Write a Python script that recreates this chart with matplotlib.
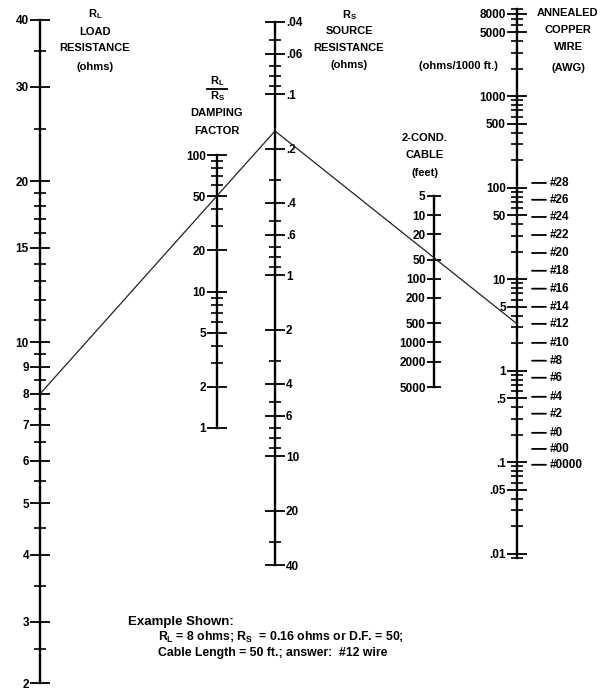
import matplotlib
matplotlib.use("Agg")
import matplotlib.pyplot as plt
import numpy as np
from matplotlib import ticker
from matplotlib.lines import Line2D
from matplotlib.patches import ConnectionPatch

plt.rcParams['font.family'] = ['Liberation Sans', 'DejaVu Sans']
plt.rcParams['font.weight'] = 'bold'
plt.rcParams['mathtext.fontset'] = 'custom'
plt.rcParams['mathtext.rm'] = 'Liberation Sans:bold'
plt.rcParams['mathtext.bf'] = 'Liberation Sans:bold'
plt.rcParams['mathtext.it'] = 'Liberation Sans:bold'

# scale values
rl_major = [2, 3, 4, 5, 6, 7, 8, 9, 10, 15, 20, 30, 40]
rl_minor = [2.5, 3.5, 4.5, 5.5, 6.5, 7.5, 8.5, 9.5, 11, 12, 13, 14, 16, 17, 18, 19, 25, 35]
df_major = [1, 2, 5, 10, 20, 50, 100]
df_minor = [3, 4, 6, 7, 8, 9, 30, 40, 60, 70, 80, 90]
rs_major = [0.04, 0.06, 0.1, 0.2, 0.4, 0.6, 1, 2, 4, 6, 10, 20, 40]
cable_ft = [5, 10, 20, 50, 100, 200, 500, 1000, 2000, 5000]
wire_major = [0.01, 0.05, 0.1, 0.5, 1, 5, 10, 50, 100, 500, 1000, 5000, 8000]
awg_gauge = ['#28', '#26', '#24', '#22', '#20', '#18', '#16', '#14', '#12',
             '#10', '#8', '#6', '#4', '#2', '#0', '#00', '#0000']
awg_loop_ohms = [113, 74, 48, 30.5, 19.4, 12.4, 7.9, 5.0, 3.26,
                 2.02, 1.29, 0.84, 0.52, 0.34, 0.21, 0.14, 0.094]

# example shown
ex_rl = 8
ex_rs = 0.16
ex_wire = 3.26

W, H = 606, 689
fig = plt.figure(figsize=(W / 100, H / 100), dpi=100)
fig.patch.set_facecolor('white')

FS = 8.5   # tick numbers
TS = 8     # headings


def fmt(v):
    s = f"{v:g}"
    return s[1:] if s.startswith("0.") else s


def scale_axes(x, ytop, ybot, side='left'):
    # a narrow axes whose one visible spine is the scale line
    w = 40
    x0 = x if side == 'left' else x - w
    ax = fig.add_axes([x0 / W, 1 - ybot / H, w / W, (ybot - ytop) / H])
    ax.patch.set_alpha(0)
    for s in ax.spines.values():
        s.set_visible(False)
    ax.spines[side].set_visible(True)
    ax.spines[side].set_linewidth(1.7)
    ax.set_xlim(0, 1)
    ax.set_xticks([])
    if side == 'right':
        ax.yaxis.tick_right()
    ax.tick_params(axis='y', which='major', direction='inout', length=14, width=1.3,
                   pad=1, labelsize=FS)
    ax.tick_params(axis='y', which='minor', direction='inout', length=9, width=1.2)
    return ax


def ftext(x, y, s, size=TS, ha='center', **kw):
    fig.text(x / W, 1 - y / H, s, ha=ha, va='center', fontsize=size,
             fontweight='bold', **kw)


# load resistance: log, squeezed a bit below 3 ohms as on the drawing
u3 = np.log10(3)


def rl_fwd(v):
    u = np.log10(np.clip(v, 1e-6, None))
    return np.where(u < u3, u3 - 0.65 * (u3 - u), u)


def rl_inv(t):
    return 10 ** np.where(t < u3, u3 - (u3 - t) / 0.65, t)


ax_rl = scale_axes(40, 20, 683)
ax_rl.set_yscale('function', functions=(rl_fwd, rl_inv))
ax_rl.set_ylim(2, 40)
ax_rl.set_yticks(rl_major, [fmt(v) for v in rl_major])
ax_rl.set_yticks(rl_minor, minor=True)

# damping factor
ax_df = scale_axes(217, 155, 428)
ax_df.set_yscale('log')
ax_df.set_ylim(1, 100)
ax_df.set_yticks(df_major, [fmt(v) for v in df_major])
ax_df.set_yticks(df_minor, minor=True)
ax_df.yaxis.set_minor_formatter(ticker.NullFormatter())

# source resistance
ax_rs = scale_axes(275, 22, 565, side='right')
ax_rs.set_yscale('log')
ax_rs.set_ylim(40, 0.04)
ax_rs.set_yticks(rs_major, [fmt(v) for v in rs_major])
ax_rs.yaxis.set_minor_locator(ticker.LogLocator(base=10, subs=np.arange(2, 10)))
ax_rs.yaxis.set_minor_formatter(ticker.NullFormatter())

# cable length
ax_cb = scale_axes(434, 196, 387)
ax_cb.set_yscale('log')
ax_cb.set_ylim(5000, 5)
ax_cb.set_yticks(cable_ft, [fmt(v) for v in cable_ft])
ax_cb.yaxis.set_minor_locator(ticker.NullLocator())
ax_cb.tick_params(axis='y', which='major', length=10)

# wire resistance (ohms / 1000 ft of cable)
ax_w = scale_axes(517, 9, 558)
ax_w.set_yscale('log')
ax_w.set_ylim(0.009, 9000)
ax_w.set_yticks(wire_major, [fmt(v) for v in wire_major])
ax_w.yaxis.set_minor_locator(ticker.LogLocator(base=10, subs=np.arange(2, 10), numticks=20))
ax_w.yaxis.set_minor_formatter(ticker.NullFormatter())

# gauge markers
for g, r in zip(awg_gauge, awg_loop_ohms):
    ax_w.annotate('', xy=(15 / 40, r), xytext=(29 / 40, r),
                  xycoords=('axes fraction', 'data'),
                  arrowprops=dict(arrowstyle='-', lw=1.3, color='black',
                                  shrinkA=0, shrinkB=0))
    ax_w.annotate(g, xy=(33 / 40, r), xycoords=('axes fraction', 'data'),
                  ha='left', va='center', fontsize=FS, fontweight='bold',
                  annotation_clip=False)

# example line
for (a, xa, va), (b, xb, vb) in [((ax_rl, 0, ex_rl), (ax_rs, 1, ex_rs)),
                                 ((ax_rs, 1, ex_rs), (ax_w, 0, ex_wire))]:
    con = ConnectionPatch(xyA=(xa, va), coordsA=a.transData,
                          xyB=(xb, vb), coordsB=b.transData,
                          color='#222222', lw=0.9)
    fig.add_artist(con)

# headings
RL = r'$\mathbf{R_L}$'
RS = r'$\mathbf{R_S}$'
ftext(95, 14, RL)
ftext(95, 32, 'LOAD')
ftext(95, 48, 'RESISTANCE')
ftext(95, 67, '(ohms)')

ftext(217, 81, RL)
fig.add_artist(Line2D([207 / W, 227 / W], [1 - 89 / H] * 2, color='black', lw=1.3))
ftext(217, 96, RS)
ftext(217, 113, 'DAMPING')
ftext(217, 131, 'FACTOR')

ftext(349, 15, RS)
ftext(349, 31, 'SOURCE')
ftext(349, 48, 'RESISTANCE')
ftext(349, 65, '(ohms)')

ftext(425, 138, '2-COND.')
ftext(425, 155, 'CABLE')
ftext(425, 173, '(feet)')

ftext(568, 13, 'ANNEALED')
ftext(568, 30, 'COPPER')
ftext(568, 47, 'WIRE')
ftext(568, 68, '(AWG)')
ftext(498, 66, '(ohms/1000 ft.)', ha='right')

# example note
ftext(128, 622, 'Example Shown:', size=9.5, ha='left')
ftext(158, 637, RL + ' = 8 ohms; ' + RS + '  = 0.16 ohms or D.F. = 50;', size=8.8, ha='left')
ftext(158, 653, 'Cable Length = 50 ft.; answer:  #12 wire', size=8.8, ha='left')

fig.savefig('out.png', dpi=100, facecolor='white')
